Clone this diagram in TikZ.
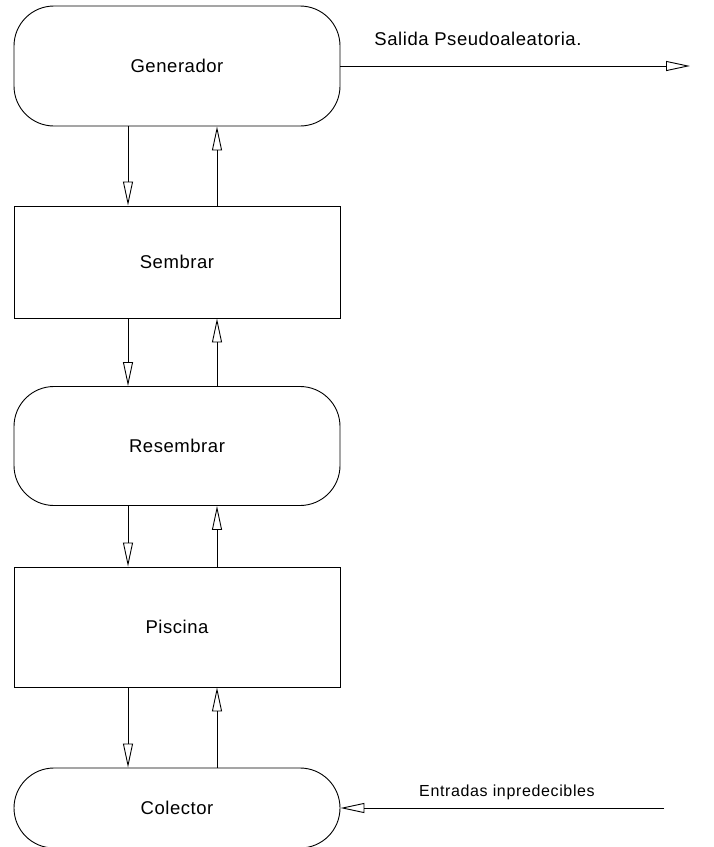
\documentclass[tikz,border=0pt]{standalone}
\usepackage{fontspec}
\usepackage{tikz}
\usetikzlibrary{arrows.meta, positioning}
\setmainfont{Liberation Sans}
\newfontfamily\blockfont[LetterSpace=3]{Liberation Sans}
\newfontfamily\notefont[LetterSpace=4]{Liberation Sans}

\begin{document}
\begin{tikzpicture}[x=1pt, y=-1pt,
    block/.style={rectangle, draw=black, line width=0.9pt, fill=white, minimum width=326pt, minimum height=#1, inner sep=0pt, font=\blockfont\fontsize{18.5}{22}\selectfont},
    pill/.style={block=#1, rounded corners=40pt},
    arrow/.style={-{Triangle[open, length=24pt, width=10pt]}, line width=0.9pt, color=black}
]
\useasboundingbox (0,0) rectangle (714,847);

% Blocks
\node[pill=120pt] (gen) at (177,66) {Generador};
\node[block=112pt] (sem) at (177,262) {Sembrar};
\node[pill=119pt] (res) at (177,446) {Resembrar};
\node[block=120pt] (pis) at (177,627) {Piscina};
\node[pill=80pt] (col) at (177,808) {Colector};

% Outside
\coordinate (out) at (690,66);
\coordinate (in) at (664,808);
\node[font=\blockfont\fontsize{18.5}{22}\selectfont] (salida) at (478,39) {Salida Pseudoaleatoria.};
\node[font=\notefont\fontsize{16}{18}\selectfont] (entradas) at (507,792) {Entradas inpredecibles};

% Arrows down
\draw[arrow] ([xshift=-49pt]gen.south) -- ([xshift=-49pt]sem.north);
\draw[arrow] ([xshift=-49pt]sem.south) -- ([xshift=-49pt]res.north);
\draw[arrow] ([xshift=-49pt]res.south) -- ([xshift=-49pt]pis.north);
\draw[arrow] ([xshift=-49pt]pis.south) -- ([xshift=-49pt]col.north);

% Arrows up
\draw[arrow] ([xshift=40pt]sem.north) -- ([xshift=40pt]gen.south);
\draw[arrow] ([xshift=40pt]res.north) -- ([xshift=40pt]sem.south);
\draw[arrow] ([xshift=40pt]pis.north) -- ([xshift=40pt]res.south);
\draw[arrow] ([xshift=40pt]col.north) -- ([xshift=40pt]pis.south);

% In and out
\draw[arrow] (gen.east) -- (out);
\draw[arrow] (in) -- (col.east);

\end{tikzpicture}
\end{document}
